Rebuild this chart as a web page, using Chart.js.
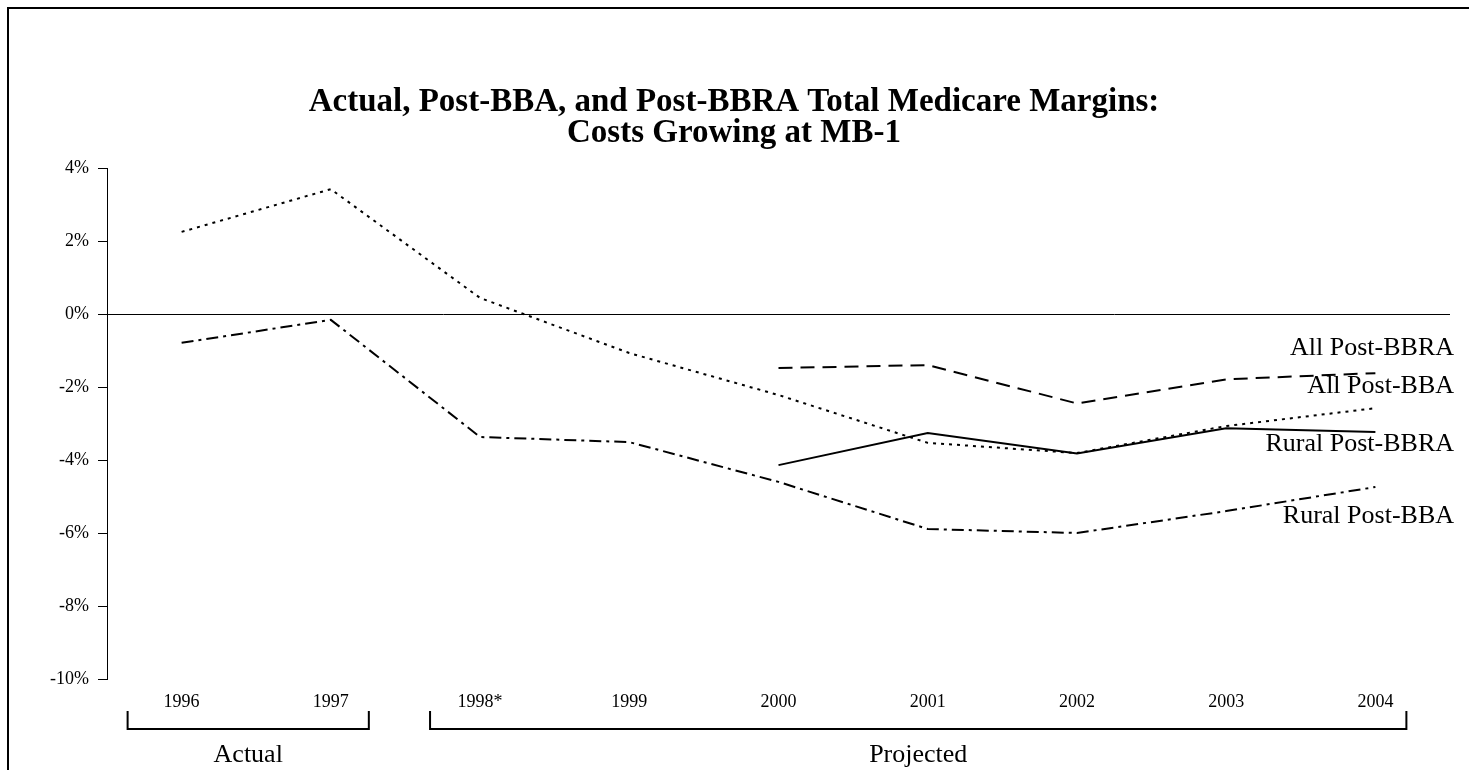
<!DOCTYPE html>
<html>
<head>
<meta charset="utf-8">
<script src="https://cdn.jsdelivr.net/npm/chart.js@4/dist/chart.umd.min.js"></script>
<style>
  html, body { margin: 0; padding: 0; background: #fff; overflow: hidden; }
  #wrap { position: relative; width: 1469px; height: 770px; }
</style>
</head>
<body>
<div id="wrap"><canvas id="chart"></canvas></div>
<script>
const years = ['1996', '1997', '1998*', '1999', '2000', '2001', '2002', '2003', '2004']

// margins in percent
const allPostBBA = [2.25, 3.42, 0.44, -1.07, -2.22, -3.53, -3.81, -3.07, -2.58]
const ruralPostBBA = [-0.79, -0.16, -3.37, -3.51, -4.6, -5.89, -6.0, -5.4, -4.74]
const allPostBBRA = [null, null, null, null, -1.48, -1.4, -2.45, -1.79, -1.62]
const ruralPostBBRA = [null, null, null, null, -4.14, -3.26, -3.82, -3.13, -3.23]

const yTicks = [4, 2, 0, -2, -4, -6, -8, -10]

const titleLines = ['Actual, Post-BBA, and Post-BBRA Total Medicare Margins:', 'Costs Growing at MB-1']
const seriesLabels = ['All Post-BBRA', 'All Post-BBA', 'Rural Post-BBRA', 'Rural Post-BBA']
const labelAt = [-0.93, -1.97, -3.56, -5.53]

const SERIF = "'Liberation Serif', 'Times New Roman', serif"

const extras = {
  id: 'extras',
  afterDraw(chart){
    const ctx = chart.ctx
    const x = chart.scales.x
    const y = chart.scales.y
    ctx.save()
    // outer frame
    ctx.strokeStyle = '#000'
    ctx.lineWidth = 2
    ctx.strokeRect(8, 8, 2000, 2000)

    ctx.fillStyle = '#000'
    ctx.textAlign = 'center'
    ctx.textBaseline = 'middle'
    ctx.font = `bold 33px ${SERIF}`
    ctx.fillText(titleLines[0], 734, 102)
    ctx.fillText(titleLines[1], 734, 133)

    // series labels on the right
    ctx.font = `26px ${SERIF}`
    ctx.textAlign = 'right'
    for(let i = 0; i < seriesLabels.length; i++){
      ctx.fillText(seriesLabels[i], 1454, y.getPixelForValue(labelAt[i]))
    }

    // brackets
    ctx.lineWidth = 2
    const bracket = (x1, x2, text)=>{
      ctx.beginPath()
      ctx.moveTo(x1, 711)
      ctx.lineTo(x1, 729)
      ctx.lineTo(x2, 729)
      ctx.lineTo(x2, 711)
      ctx.stroke()
      ctx.textAlign = 'center'
      ctx.fillText(text, (x1 + x2) / 2, 755)
    }
    bracket(x.getPixelForValue(0) - 54, x.getPixelForValue(1) + 38, 'Actual')
    bracket(x.getPixelForValue(2) - 50, x.getPixelForValue(8) + 31, 'Projected')
    ctx.restore()
  }
}

new Chart('chart', {
  type: 'line',
  data: {
    labels: years,
    datasets: [
      {
        label: 'All Post-BBA',
        data: allPostBBA,
        borderColor: '#000',
        borderWidth: 2,
        borderDash: [3, 5],
        pointRadius: 0,
        tension: 0
      },
      {
        label: 'Rural Post-BBA',
        data: ruralPostBBA,
        borderColor: '#000',
        borderWidth: 2,
        borderDash: [12, 5, 3, 5],
        pointRadius: 0,
        tension: 0
      },
      {
        label: 'All Post-BBRA',
        data: allPostBBRA,
        borderColor: '#000',
        borderWidth: 2,
        borderDash: [14, 8],
        pointRadius: 0,
        tension: 0
      },
      {
        label: 'Rural Post-BBRA',
        data: ruralPostBBRA,
        borderColor: '#000',
        borderWidth: 2,
        pointRadius: 0,
        tension: 0
      }
    ]
  },
  options: {
    responsive: true,
    maintainAspectRatio: false,
    animation: false,
    layout: { padding: { top: 168, right: 19, bottom: 0, left: 0 } },
    plugins: {
      legend: { display: false },
      title: { display: false },
      tooltip: { enabled: false }
    },
    scales: {
      x: {
        type: 'category',
        offset: true,
        grid: { display: false },
        border: { display: false },
        ticks: {
          color: '#000',
          padding: 4,
          maxRotation: 0,
          autoSkip: false,
          font: { family: SERIF, size: 18 }
        },
        afterFit: (scale)=>{ scale.height = 91 }
      },
      y: {
        min: -10,
        max: 4,
        afterBuildTicks: (scale)=>{ scale.ticks = yTicks.map(v => ({ value: v })) },
        grid: {
          drawTicks: true,
          tickLength: 9,
          tickColor: '#000',
          lineWidth: 1,
          color: (c)=> c.tick && c.tick.value === 0 ? '#000' : 'rgba(0,0,0,0)'
        },
        border: { display: true, color: '#000', width: 1 },
        ticks: {
          color: '#000',
          padding: 9,
          font: { family: SERIF, size: 18 },
          callback: (v)=> v + '%'
        },
        afterFit: (scale)=>{ scale.width = 107 }
      }
    }
  },
  plugins: [extras]
})
</script>
</body>
</html>
